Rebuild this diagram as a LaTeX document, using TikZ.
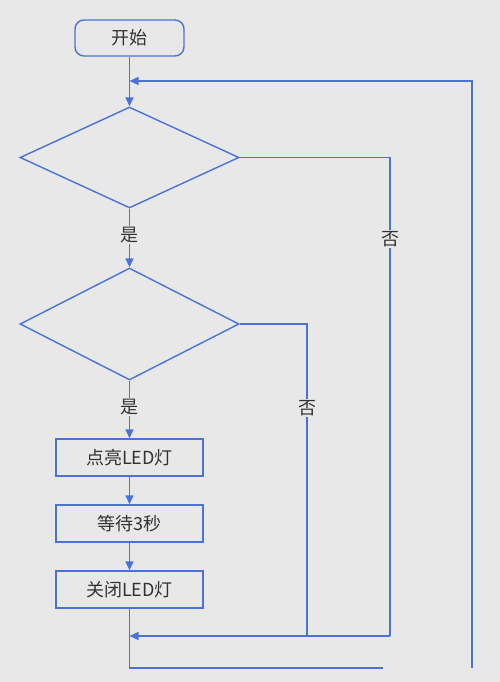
\documentclass[tikz,border=0pt]{standalone}
\usepackage{fontspec}
\setmainfont{Noto Sans CJK SC}
\usetikzlibrary{shapes.geometric,arrows.meta}
\definecolor{bg}{HTML}{E8E8E8}
\definecolor{ln}{HTML}{4A72D8}
\definecolor{tx}{HTML}{333333}
\tikzset{
  flow/.style={draw=ln, line width=1.4pt},
  arr/.style={flow, -{Triangle[length=9pt,width=8pt]}},
  procbox/.style={draw=ln, line width=1.4pt, minimum width=147pt, minimum height=37pt, inner sep=0pt, text=tx, font=\fontsize{18pt}{20pt}\selectfont},
  startbox/.style={procbox, rounded corners=9pt, minimum width=109pt, minimum height=36pt},
  decision/.style={draw=ln, line width=1.4pt, diamond, inner sep=0pt, minimum width=219pt},
  lbl/.style={text=tx, fill=bg, inner sep=1pt, font=\fontsize{18pt}{20pt}\selectfont}
}
\begin{document}
\begin{tikzpicture}[x=1pt,y=-1pt]
\fill[bg] (0,0) rectangle (500,682);
\useasboundingbox (0,0) rectangle (500,682);
\node[startbox] (start) at (129.5,38) {开始};
\node[decision, minimum height=101pt] (d1) at (129.5,157.5) {};
\node[decision, minimum height=112pt] (d2) at (129.5,324) {};
\node[procbox] (b1) at (129.5,457.5) {点亮LED灯};
\node[procbox] (b2) at (129.5,523.5) {等待3秒};
\node[procbox] (b3) at (129.5,589.5) {关闭LED灯};
\coordinate (loopin) at (129.5,81);
\coordinate (join) at (129.5,636);
\coordinate (no1a) at (390,157.5);
\coordinate (no1b) at (390,636);
\coordinate (no2a) at (307,324);
\coordinate (no2b) at (307,636);
\coordinate (bot) at (129.5,668);
\coordinate (botend) at (383,668);
\coordinate (rtop) at (472,81);
\coordinate (rbot) at (472,668);
% main flow
\draw[arr] (start.south) -- (d1.north);
\draw[arr] (d1.south) -- node[lbl, pos=0.45] (y1) {是} (d2.north);
\draw[arr] (d2.south) -- node[lbl, pos=0.45] (y2) {是} (b1.north);
\draw[arr] (b1.south) -- (b2.north);
\draw[arr] (b2.south) -- (b3.north);
% no branches
\draw[flow] (d1.east) -- (no1a) -- node[lbl, pos=0.17] (n1) {否} (no1b);
\draw[flow] (d2.east) -- (no2a) -- node[lbl, pos=0.27] (n2) {否} (no2b);
\draw[arr] (no1b) -- (join);
% bottom and loop back
\draw[flow] (b3.south) -- (bot) -- (botend);
\draw[arr] (rbot) -- (rtop) -- (loopin);
\end{tikzpicture}
\end{document}
